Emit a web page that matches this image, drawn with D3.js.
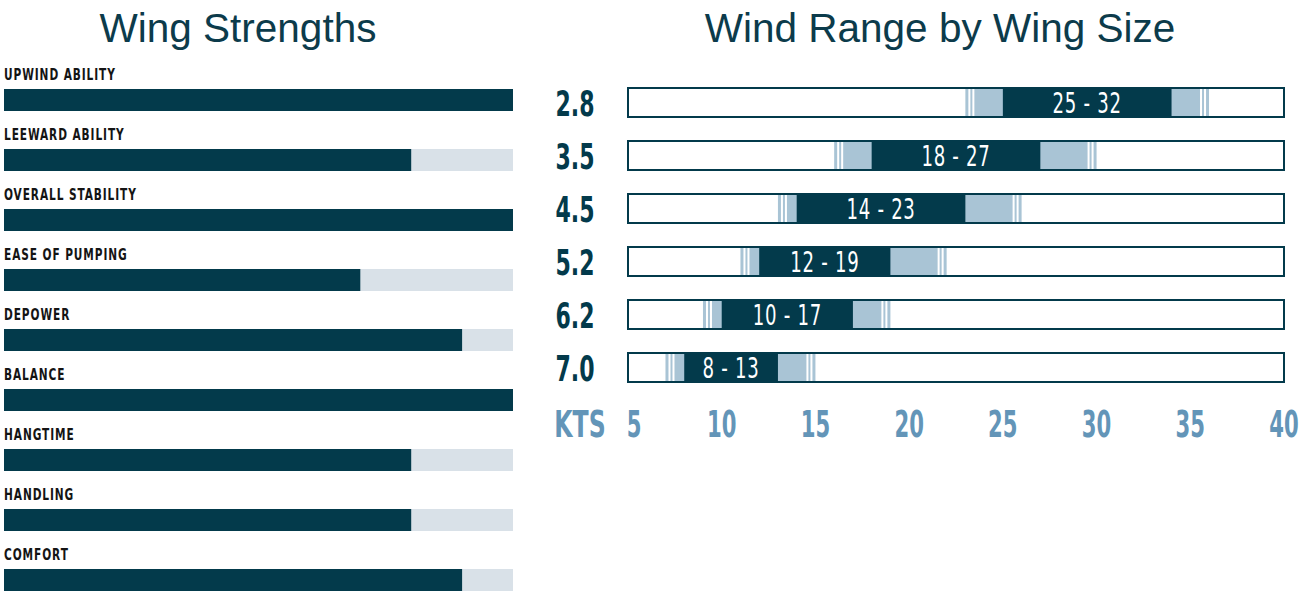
<!DOCTYPE html>
<html><head><meta charset="utf-8">
<script src="https://cdn.jsdelivr.net/npm/d3@7"></script>
<style>
html,body{margin:0;padding:0;background:#fff;}
svg{display:block;}
</style></head>
<body><svg id="c" width="1300" height="593"></svg>
<script>
// ---- Data ----
const metrics = ["UPWIND ABILITY","LEEWARD ABILITY","OVERALL STABILITY","EASE OF PUMPING","DEPOWER","BALANCE","HANGTIME","HANDLING","COMFORT"];
const metricValues = [10, 8, 10, 7, 9, 10, 8, 8, 9];
const metricMax = 10;

const wingSizes = ["2.8","3.5","4.5","5.2","6.2","7.0"];
const rangeLabels = ["25 - 32","18 - 27","14 - 23","12 - 19","10 - 17","8 - 13"];
const coreMin = [25, 18, 14, 12, 10, 8];
const coreMax = [34, 27, 23, 19, 17, 13];
const outerMin = [23, 16, 13, 11, 9, 7];
const outerMax = [36, 30, 26, 22, 19, 15];
const ktsTicks = [5,10,15,20,25,30,35,40];

// ---- Styles ----
const DARK = "#033a4b", GREY = "#d9e1e8", LIGHT = "#a9c4d5", AXIS = "#6395b8";
const COND = "'Liberation Sans Narrow','DejaVu Sans Condensed','Roboto',sans-serif";

const svg = d3.select("#c");

function condText(sel, x, y, sx) {
  return sel.attr("x", 0).attr("y", 0)
    .attr("transform", (d,i) => `translate(${typeof x==="function"?x(d,i):x},${typeof y==="function"?y(d,i):y}) scale(${sx},1)`);
}

// ---- Titles ----
svg.append("text").attr("x", 238).attr("y", 42).attr("text-anchor","middle")
  .attr("font-family","'Liberation Sans',Arial,sans-serif").attr("font-size",40.5)
  .attr("fill","#0c3b4b").text("Wing Strengths");
svg.append("text").attr("x", 940).attr("y", 42).attr("text-anchor","middle")
  .attr("font-family","'Liberation Sans',Arial,sans-serif").attr("font-size",40.5)
  .attr("fill","#0c3b4b").text("Wind Range by Wing Size");

// ---- Left chart ----
const xl = d3.scaleLinear().domain([0, metricMax]).range([4, 513]);
const yl = d3.scaleBand().domain(metrics).range([89, 89 + 9*60 - 38]).paddingInner(38/60).paddingOuter(0);

const left = svg.append("g");
left.selectAll("rect.bg").data(metrics).join("rect").attr("class","bg")
  .attr("x", xl(0)).attr("y", d => yl(d)).attr("width", xl(metricMax)-xl(0)).attr("height", yl.bandwidth())
  .attr("fill", GREY);
left.selectAll("rect.val").data(metrics).join("rect").attr("class","val")
  .attr("x", xl(0)).attr("y", d => yl(d)).attr("width", (d,i) => xl(metricValues[i])-xl(0)).attr("height", yl.bandwidth())
  .attr("fill", DARK);
condText(left.selectAll("text.lab").data(metrics).join("text").attr("class","lab"),
    xl(0), d => yl(d) - 9, 0.76)
  .attr("font-family", COND).attr("font-weight","bold").attr("font-size",15.5).attr("letter-spacing",1.2)
  .attr("fill","#141414").text(d => d);

// ---- Right chart ----
const xr = d3.scaleLinear().domain([5, 40]).range([628, 1284]);
const yr = d3.scaleBand().domain(wingSizes).range([87, 383]).paddingInner(22/53).paddingOuter(0);
const bh = yr.bandwidth();

const right = svg.append("g");
const rows = right.selectAll("g.row").data(wingSizes).join("g").attr("class","row")
  .attr("transform", d => `translate(0,${yr(d)})`);

// outer light range
rows.append("rect").attr("x",(d,i)=>xr(outerMin[i])).attr("y",0)
  .attr("width",(d,i)=>xr(outerMax[i])-xr(outerMin[i])).attr("height",bh).attr("fill",LIGHT);
// stripes (white gaps) near both ends of the outer range
[3, 7].forEach(off => {
  rows.append("rect").attr("x",(d,i)=>xr(outerMin[i])+off).attr("y",0).attr("width",2).attr("height",bh).attr("fill","#fff");
  rows.append("rect").attr("x",(d,i)=>xr(outerMax[i])-off-2).attr("y",0).attr("width",2).attr("height",bh).attr("fill","#fff");
});
// outline
rows.append("rect").attr("x", xr(5)).attr("y", 1).attr("width", xr(40)-xr(5)).attr("height", bh-2)
  .attr("fill","none").attr("stroke", DARK).attr("stroke-width", 2);
// core dark
rows.append("rect").attr("x",(d,i)=>xr(coreMin[i])).attr("y",0)
  .attr("width",(d,i)=>xr(coreMax[i])-xr(coreMin[i])).attr("height",bh).attr("fill",DARK);
// core label
rows.each(function(d,i){
  const g = d3.select(this);
  condText(g.append("text"), (xr(coreMin[i])+xr(coreMax[i]))/2, bh/2 + 10, 0.72)
    .attr("text-anchor","middle").attr("font-family",COND).attr("font-size",28)
    .attr("fill","#fff").attr("letter-spacing",1).text(rangeLabels[i]);
});
// size labels
condText(rows.append("text"), 575, bh/2 + 13, 0.7)
  .attr("text-anchor","middle").attr("font-family",COND).attr("font-weight","bold").attr("font-size",35)
  .attr("fill", DARK).text(d => d);

// axis
const axisY = 437;
condText(right.append("text"), 580, axisY, 0.69)
  .attr("text-anchor","middle").attr("font-family",COND).attr("font-weight","bold").attr("font-size",38)
  .attr("fill",AXIS).text("KTS");
condText(right.selectAll("text.tick").data(ktsTicks).join("text").attr("class","tick"),
    (d,i) => xr(d) + (i===0 ? 6 : 0), axisY, 0.62)
  .attr("text-anchor","middle").attr("font-family",COND).attr("font-weight","bold").attr("font-size",38)
  .attr("fill",AXIS).text(d => d);
</script>
</body></html>
